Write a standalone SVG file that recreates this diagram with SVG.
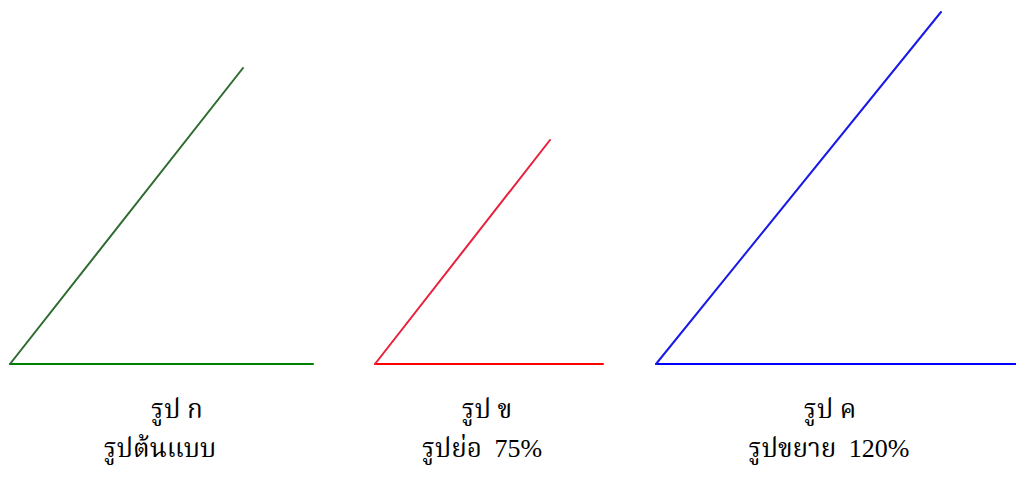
<svg xmlns="http://www.w3.org/2000/svg" width="1016" height="477" viewBox="0 0 1016 477">
<style>
.t{font-family:"Liberation Serif","Noto Serif Thai","Noto Sans Thai","DejaVu Serif",serif;font-size:26px;fill:#000;text-anchor:middle}
.ln{stroke-width:2;fill:none;stroke-linecap:round}
</style>
<rect width="1016" height="477" fill="#fff"/>
<g id="connectors">
<line class="ln" x1="10" y1="364" x2="313" y2="364" stroke="#008000"/>
<line class="ln" x1="10" y1="364" x2="243" y2="68" stroke="#2e6b2e"/>
<line class="ln" x1="375" y1="364" x2="603" y2="364" stroke="#ff0000"/>
<line class="ln" x1="375" y1="364" x2="550" y2="140" stroke="#e8203a"/>
<line class="ln" x1="656" y1="364" x2="1016" y2="364" stroke="#0000ff"/>
<line class="ln" x1="656" y1="364" x2="941" y2="12" stroke="#1a1ae6"/>
</g>
<g id="label-a">
<text class="t" x="177" y="418">รูป ก</text>
<text class="t" x="160" y="457">รูปต้นแบบ</text>
</g>
<g id="label-b">
<text class="t" x="487" y="418">รูป ข</text>
<text class="t" x="482" y="457">รูปย่อ<tspan dx="6"> 75%</tspan></text>
</g>
<g id="label-c">
<text class="t" x="830" y="418">รูป ค</text>
<text class="t" x="829" y="457">รูปขยาย<tspan dx="6"> 120%</tspan></text>
</g>
</svg>
